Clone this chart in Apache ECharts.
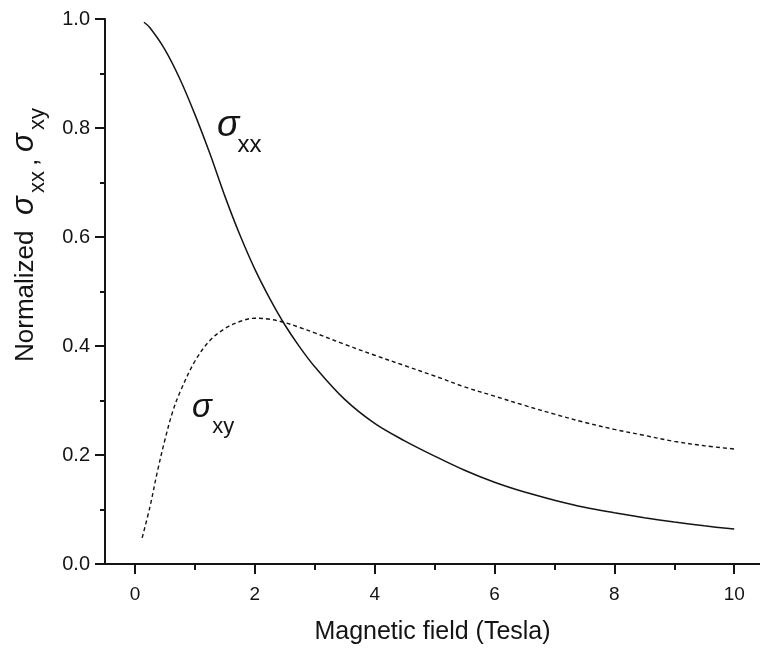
<!DOCTYPE html>
<html>
<head>
<meta charset="utf-8">
<script src="https://cdn.jsdelivr.net/npm/echarts@6/dist/echarts.min.js"></script>
<style>
  html, body { margin: 0; padding: 0; background: #fff; }
  #chart { width: 760px; height: 651px; }
</style>
</head>
<body>
<div id="chart"></div>
<script>
// Magnetic field (T) sample points for the longitudinal conductivity
const fieldXX = [0.15, 0.25, 0.5, 0.75, 1.0, 1.25, 1.5, 1.75, 2.0, 2.25, 2.5, 2.75, 3.0,
                 3.5, 4.0, 4.5, 5.0, 5.5, 6.0, 6.5, 7.0, 7.5, 8.0, 8.5, 9.0, 9.5, 10.0];
// Normalized sigma_xx
const sigmaXX = [0.994, 0.984, 0.944, 0.890, 0.825, 0.753, 0.675, 0.604, 0.541, 0.487, 0.439, 0.398, 0.362,
                 0.302, 0.258, 0.226, 0.198, 0.172, 0.150, 0.132, 0.117, 0.104, 0.094, 0.085, 0.077, 0.070, 0.064];

// Magnetic field (T) sample points for the Hall conductivity
const fieldXY = [0.12, 0.25, 0.375, 0.5, 0.625, 0.75, 1.0, 1.25, 1.5, 1.75, 2.0, 2.25, 2.5, 2.75, 3.0,
                 3.5, 4.0, 4.5, 5.0, 5.5, 6.0, 6.5, 7.0, 7.5, 8.0, 8.5, 9.0, 9.5, 10.0];
// Normalized sigma_xy
const sigmaXY = [0.048, 0.105, 0.170, 0.228, 0.278, 0.315, 0.372, 0.410, 0.432, 0.445, 0.451, 0.449, 0.443, 0.434, 0.424,
                 0.403, 0.383, 0.364, 0.345, 0.325, 0.308, 0.291, 0.275, 0.260, 0.247, 0.236, 0.225, 0.217, 0.211];

const xMajorTicks = [0, 2, 4, 6, 8, 10];
const xMinorTicks = [1, 3, 5, 7, 9];
const xTitle = 'Magnetic field (Tesla)';

// curve labels: anchor of sigma glyph and of the subscript, in data units
const labelXX = { sigma: [1.37, 0.805], sub: [1.71, 0.768], subText: 'xx' };
const labelXY = { sigma: [0.95, 0.287], sub: [1.29, 0.252], subText: 'xy' };

const ink = '#141414';
const sans = '"Liberation Sans", Arial, Helvetica, sans-serif';

const pairs = (xs, ys) => xs.map((x, i) => [x, ys[i]]);

const chart = echarts.init(document.getElementById('chart'), null, { renderer: 'canvas' });

const axisCommon = {
  type: 'value',
  min: -0.5,
  max: 10.43,
  position: 'bottom',
  splitLine: { show: false }
};

chart.setOption({
  animation: false,
  backgroundColor: '#ffffff',
  grid: { left: 105, right: 0, top: 19, bottom: 87, containLabel: false, outerBoundsMode: 'none' },
  xAxis: [
    Object.assign({}, axisCommon, {
      axisLine: { show: true, onZero: false, lineStyle: { color: ink, width: 2 } },
      axisTick: { show: true, customValues: xMajorTicks, length: 10, lineStyle: { color: ink, width: 2 } },
      axisLabel: { customValues: xMajorTicks, fontSize: 19, margin: 21, color: ink, fontFamily: sans },
      name: xTitle,
      nameLocation: 'middle',
      nameGap: 56,
      nameTextStyle: { fontSize: 25, color: ink, fontFamily: sans }
    }),
    Object.assign({}, axisCommon, {
      axisLine: { show: false, onZero: false },
      axisTick: { show: true, customValues: xMinorTicks, length: 6, lineStyle: { color: ink, width: 2 } },
      axisLabel: { show: false }
    })
  ],
  yAxis: {
    type: 'value',
    min: 0,
    max: 1,
    interval: 0.2,
    axisLine: { show: true, onZero: false, lineStyle: { color: ink, width: 2 } },
    axisTick: { show: true, length: 10, lineStyle: { color: ink, width: 2 } },
    minorTick: { show: true, splitNumber: 2, length: 5, lineStyle: { color: ink, width: 2 } },
    axisLabel: { fontSize: 20, margin: 15, color: ink, fontFamily: sans, formatter: v => v.toFixed(1) },
    splitLine: { show: false },
    minorSplitLine: { show: false }
  },
  series: [
    {
      name: 'sigma_xx',
      type: 'line',
      data: pairs(fieldXX, sigmaXX),
      smooth: 0.35,
      showSymbol: false,
      lineStyle: { color: ink, width: 1.5, type: 'solid' }
    },
    {
      name: 'sigma_xy',
      type: 'line',
      data: pairs(fieldXY, sigmaXY),
      smooth: 0.35,
      showSymbol: false,
      lineStyle: { color: ink, width: 1.4, type: [4, 3] }
    }
  ]
});

function curveLabel(spec, sigmaSize, subSize) {
  const p1 = chart.convertToPixel({ xAxisIndex: 0, yAxisIndex: 0 }, spec.sigma);
  const p2 = chart.convertToPixel({ xAxisIndex: 0, yAxisIndex: 0 }, spec.sub);
  return [
    { type: 'text', x: p1[0], y: p1[1], silent: true,
      style: { text: 'σ', font: 'italic ' + sigmaSize + 'px ' + sans, fill: ink,
               textAlign: 'left', textVerticalAlign: 'middle' } },
    { type: 'text', x: p2[0], y: p2[1], silent: true,
      style: { text: spec.subText, font: subSize + 'px ' + sans, fill: ink,
               textAlign: 'left', textVerticalAlign: 'middle' } }
  ];
}

// vertical axis title, laid out along the rotated baseline (reads bottom to top)
function yTitle() {
  const piece = (text, along, across, font) => ({
    type: 'text', x: along, y: across, silent: true,
    style: { text: text, font: font, fill: ink, textAlign: 'left', textVerticalAlign: 'middle' }
  });
  return {
    type: 'group',
    x: 26, y: 362,
    rotation: Math.PI / 2,
    silent: true,
    children: [
      piece('Normalized', 0, 0, '26px ' + sans),
      piece('σ', 147, -2, 'italic 31px ' + sans),
      piece('xx', 169, 12, '22px ' + sans),
      piece(',', 196, 4, '26px ' + sans),
      piece('σ', 210, -2, 'italic 31px ' + sans),
      piece('xy', 232, 12, '22px ' + sans)
    ]
  };
}

chart.setOption({
  graphic: [].concat(curveLabel(labelXX, 37, 24), curveLabel(labelXY, 33, 22), [yTitle()])
});
</script>
</body>
</html>
